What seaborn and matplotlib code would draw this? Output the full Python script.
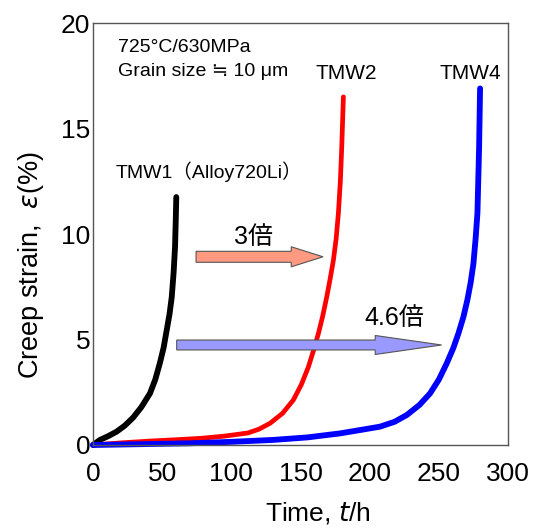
import numpy as np
import pandas as pd
import matplotlib
matplotlib.use('Agg')
import matplotlib.pyplot as plt
import seaborn as sns

# creep curves (time in h, strain in %)
t_tmw1 = [0, 5, 11, 17, 23, 29, 35, 41.2, 45, 48.4, 51, 53.3, 55.3, 56.9, 58.3, 59.3, 59.8, 60.2]
e_tmw1 = [0, 0.24, 0.42, 0.63, 0.92, 1.3, 1.8, 2.45, 3.1, 3.9, 4.6, 5.45, 6.2, 7.0, 8.2, 9.4, 10.6, 11.75]

t_tmw2 = [0, 20, 42, 60, 78.6, 95, 112, 120, 128, 137, 144.8, 150.5, 155.7, 159.5, 163, 166,
          169, 171.5, 173.8, 175.8, 177.4, 178.8, 179.8, 181]
e_tmw2 = [0, 0.1, 0.19, 0.25, 0.32, 0.42, 0.57, 0.75, 1.03, 1.5, 2.13, 2.85, 3.7, 4.5, 5.3, 6.1,
          7.03, 7.9, 8.77, 9.8, 11.0, 12.5, 14.1, 16.5]

t_tmw4 = [0, 35, 70, 100, 130, 155, 178.6, 195, 207.5, 218, 226.8, 236, 243.7, 250, 255.7, 260.5,
          264.2, 267.8, 270.6, 273, 275, 276.6, 277.9, 279.1, 279.8]
e_tmw4 = [0, 0.04, 0.08, 0.15, 0.24, 0.36, 0.55, 0.73, 0.87, 1.1, 1.42, 1.9, 2.45, 3.1, 3.87, 4.6,
          5.3, 6.08, 6.87, 7.7, 8.6, 9.8, 11.0, 14.1, 16.9]

names = ['TMW1', 'TMW2', 'TMW4']
colors = ['black', '#ff0000', '#0000ff']
widths = [4.2, 3.4, 4.2]

sns.set_style('white')
plt.rcParams['font.family'] = ['Liberation Sans', 'Noto Sans CJK JP', 'DejaVu Sans']
plt.rcParams['mathtext.fontset'] = 'dejavusans'
plt.rcParams['text.color'] = 'black'
plt.rcParams['axes.labelcolor'] = 'black'

fig = plt.figure(figsize=(5.42, 5.29), dpi=100)
ax = fig.add_axes([0.1716, 0.1588, 0.7657, 0.7977])

series = [(t_tmw1, e_tmw1), (t_tmw2, e_tmw2), (t_tmw4, e_tmw4)]
for (t, e), name, c, lw in zip(series, names, colors, widths):
    df = pd.DataFrame({'t': t, 'e': e})
    sns.lineplot(data=df, x='t', y='e', color=c, linewidth=lw, sort=False,
                 estimator=None, ax=ax, clip_on=False, solid_capstyle='round')

ax.set_xlim(0, 300)
ax.set_ylim(0, 20)
ax.set_xticks([0, 50, 100, 150, 200, 250, 300])
ax.set_yticks([0, 5, 10, 15, 20])
ax.set_xticks(np.arange(0, 301, 25), minor=True)
ax.set_yticks(np.arange(0, 21, 1), minor=True)
ax.tick_params(which='both', direction='in', color='#555555', width=0.8,
               labelsize=19, labelcolor='black')
ax.tick_params(which='major', length=5)
ax.tick_params(which='minor', length=4)
ax.tick_params(axis='x', pad=12)
ax.tick_params(axis='y', pad=2)
for sp in ax.spines.values():
    sp.set_color('#555555')
    sp.set_linewidth(1.0)

ax.set_xlabel('Time, $t$/h', fontsize=19)
ax.set_ylabel(r'Creep strain,  $\varepsilon$(%)', fontsize=19.5)
ax.xaxis.set_label_coords(0.542, -0.13)
ax.yaxis.set_label_coords(-0.113, 0.425)

# condition notes and labels
ax.text(18, 18.86, '725°C/630MPa', fontsize=14, va='center', ha='left')
ax.text(18, 17.68, 'Grain size ≒ 10 μm', fontsize=14, va='center', ha='left')
ax.text(183, 17.63, 'TMW2', fontsize=15, va='center', ha='center')
ax.text(272.6, 17.63, 'TMW4', fontsize=15, va='center', ha='center')
ax.text(83.9, 12.94, 'TMW1（Alloy720Li）', fontsize=14, va='center', ha='center')

# improvement arrows
ax.arrow(74.5, 8.92, 166.3 - 74.5, 0, width=0.52, head_width=0.95, head_length=23,
         length_includes_head=True, fc='#ff9a80', ec='#555555', lw=0.8, zorder=3)
ax.text(115.7, 9.86, '3倍', fontsize=18, va='center', ha='center')
ax.arrow(60.5, 4.74, 252 - 60.5, 0, width=0.47, head_width=0.9, head_length=48,
         length_includes_head=True, fc='#9999ff', ec='#555555', lw=0.8, zorder=3)
ax.text(217.6, 6.02, '4.6倍', fontsize=18, va='center', ha='center')

fig.savefig('out.png', dpi=100)
